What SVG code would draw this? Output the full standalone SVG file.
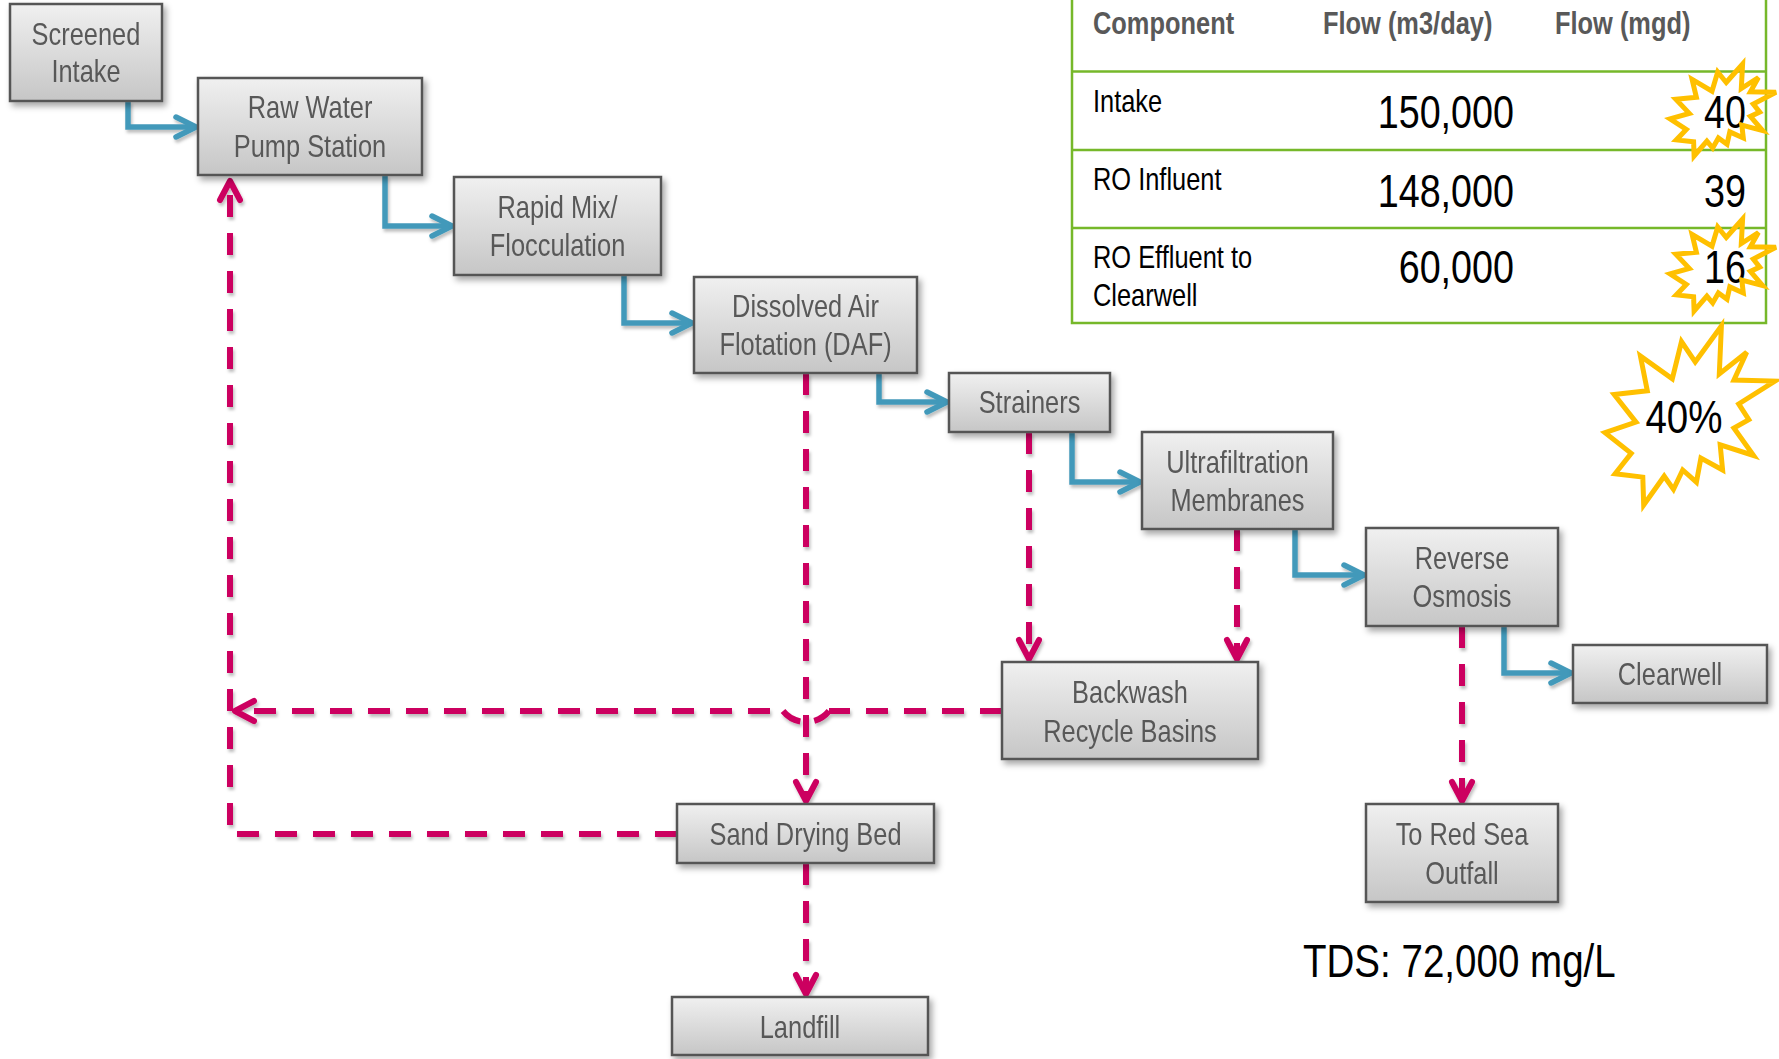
<svg xmlns="http://www.w3.org/2000/svg" width="1779" height="1059" viewBox="0 0 1779 1059">
  <style>
    .box { fill: url(#boxFill); stroke: #555555; stroke-width: 2.5; }
    .lbl { font-family: 'Liberation Sans', Arial, sans-serif; font-size: 31px; fill: #595959; text-anchor: middle; }
    .flow { fill: none; stroke: #4399BA; stroke-width: 5.5; stroke-linecap: butt; stroke-linejoin: miter; }
    .waste { fill: none; stroke: #CC0060; stroke-width: 6; stroke-dasharray: 22 16; }
    .tbl { fill: none; stroke: #76B82A; stroke-width: 2.5; }
    .th { font-family: 'Liberation Sans', Arial, sans-serif; font-size: 31px; font-weight: bold; fill: #595959; }
    .td { font-family: 'Liberation Sans', Arial, sans-serif; font-size: 31px; fill: #000000; }
    .num { font-family: 'Liberation Sans', Arial, sans-serif; font-size: 46px; fill: #000000; text-anchor: end; }
    .burst { fill: none; stroke: #FFC000; stroke-width: 5; stroke-linejoin: miter; }
    .big { font-family: 'Liberation Sans', Arial, sans-serif; font-size: 47px; fill: #000000; }
  </style>
  <defs>
    <linearGradient id="boxFill" x1="0" y1="0" x2="0" y2="1">
      <stop offset="0" stop-color="#F0F0F0"/>
      <stop offset="1" stop-color="#C6C6C6"/>
    </linearGradient>
    <filter id="boxShadow" x="-10%" y="-10%" width="125%" height="135%">
      <feDropShadow dx="3" dy="4" stdDeviation="3" flood-color="#000000" flood-opacity="0.35"/>
    </filter>
    <filter id="lineShadow" x="-5%" y="-5%" width="110%" height="110%">
      <feDropShadow dx="1.5" dy="3" stdDeviation="1.5" flood-color="#000000" flood-opacity="0.25"/>
    </filter>
    <marker id="headBlue" markerUnits="userSpaceOnUse" viewBox="-26 -16 32 32" markerWidth="32" markerHeight="32" refX="0" refY="0" orient="auto" overflow="visible">
      <path d="M-20,-10 L0,0 L-20,10" fill="none" stroke="#4399BA" stroke-width="5.5" stroke-linecap="round" stroke-linejoin="round"/>
    </marker>
    <marker id="headRed" markerUnits="userSpaceOnUse" viewBox="-26 -16 32 32" markerWidth="32" markerHeight="32" refX="0" refY="0" orient="auto" overflow="visible">
      <path d="M-19,-10 L0,0 L-19,10" fill="none" stroke="#CC0060" stroke-width="6" stroke-linecap="round" stroke-linejoin="round"/>
    </marker>
    <path id="burstSmall" d="M56.2,18.5 L72.6,0 L71.3,24.6 L88.4,13.5 L80.4,27.8 L106,28.3 L83.3,40 L89.7,48.1 L80.4,52.4 L92.6,66.6 L71.8,61.1 L73.3,74 L59.8,67.9 L57,80.3 L48.4,74 L42.7,84 L36.9,77.2 L24.1,92 L23.6,77.7 L6.3,75.9 L16.3,65.5 L0,54.9 L19.3,49.4 L5.8,35.2 L26.4,33.3 L22.1,15.4 L42,27.2 L47.7,8 Z"/>
  </defs>

  <!-- flow table (text condensed horizontally to a narrow face) -->
  <g id="flow-table">
    <rect class="tbl" x="1072" y="-5" width="694" height="328"/>
    <line class="tbl" x1="1072" y1="71.5" x2="1766" y2="71.5"/>
    <line class="tbl" x1="1072" y1="150" x2="1766" y2="150"/>
    <line class="tbl" x1="1072" y1="228" x2="1766" y2="228"/>
    <text class="th" transform="translate(1093,34) scale(0.82,1)">Component</text>
    <text class="th" transform="translate(1323,34) scale(0.82,1)">Flow (m3/day)</text>
    <text class="th" transform="translate(1555,34) scale(0.82,1)">Flow (mgd)</text>
    <text class="td" transform="translate(1093,112) scale(0.82,1)">Intake</text>
    <text class="td" transform="translate(1093,190) scale(0.82,1)">RO Influent</text>
    <text class="td" transform="translate(1093,268) scale(0.82,1)">RO Effluent to</text>
    <text class="td" transform="translate(1093,306) scale(0.82,1)">Clearwell</text>
    <text class="num" transform="translate(1514,128) scale(0.82,1)">150,000</text>
    <text class="num" transform="translate(1514,207) scale(0.82,1)">148,000</text>
    <text class="num" transform="translate(1514,283) scale(0.82,1)">60,000</text>
    <text class="num" transform="translate(1746,128) scale(0.82,1)">40</text>
    <text class="num" transform="translate(1746,207) scale(0.82,1)">39</text>
    <text class="num" transform="translate(1746,283) scale(0.82,1)">16</text>
  </g>

  <!-- highlight bursts -->
  <g id="bursts">
    <use href="#burstSmall" class="burst" transform="translate(1670,64)"/>
    <use href="#burstSmall" class="burst" transform="translate(1670,219)"/>
    <path class="burst" d="M1695.2,362 L1721.4,326 L1719.3,373.9 L1746.7,352.3 L1733.9,380.1 L1775,381.1 L1738.7,403.9 L1748.8,419.6 L1733.9,428 L1753.6,455.5 L1720.2,444.9 L1722.6,470 L1700.9,458.1 L1696.4,482.1 L1682.7,470 L1673.5,489.4 L1664.2,476.2 L1643.7,505 L1642.8,477.1 L1615.1,473.7 L1631.2,453.4 L1605,432.7 L1636,422.1 L1614.2,394.5 L1647.3,390.8 L1640.4,356 L1672.3,378.9 L1681.5,341.6 Z"/>
    <text class="big" text-anchor="middle" transform="translate(1684,433) scale(0.82,1)">40%</text>
  </g>

  <!-- connectors -->
  <g id="connectors">
    <g filter="url(#lineShadow)">
      <path class="flow" d="M128,101 V127 H196" marker-end="url(#headBlue)"/>
      <path class="flow" d="M385,175 V226 H452" marker-end="url(#headBlue)"/>
      <path class="flow" d="M624,275 V323 H692" marker-end="url(#headBlue)"/>
      <path class="flow" d="M879,373 V402 H947" marker-end="url(#headBlue)"/>
      <path class="flow" d="M1072,432 V482 H1140" marker-end="url(#headBlue)"/>
      <path class="flow" d="M1295,529 V575 H1364" marker-end="url(#headBlue)"/>
      <path class="flow" d="M1504,626 V673 H1571" marker-end="url(#headBlue)"/>
    </g>
    <g filter="url(#lineShadow)">
      <path class="waste" d="M677,834 H230 V181" marker-end="url(#headRed)"/>
      <path class="waste" d="M1002,711 H829"/>
      <!-- line hop where the recycle return crosses the DAF sludge line -->
      <path class="waste" style="stroke-dasharray: 18 14 30" d="M829,711 A29.5,29.5 0 0 1 783,711"/>
      <path class="waste" d="M770,711 H235" marker-end="url(#headRed)"/>
      <path class="waste" d="M806,373 V801" marker-end="url(#headRed)"/>
      <path class="waste" d="M806,863 V994" marker-end="url(#headRed)"/>
      <path class="waste" d="M1029,432 V659" marker-end="url(#headRed)"/>
      <path class="waste" d="M1237,529 V659" marker-end="url(#headRed)"/>
      <path class="waste" d="M1462,626 V801" marker-end="url(#headRed)"/>
    </g>
  </g>

  <!-- process units -->
  <g id="screened-intake" filter="url(#boxShadow)">
    <rect class="box" x="10" y="4" width="152" height="97"/>
    <text class="lbl" transform="translate(86,45) scale(0.82,1)">Screened</text>
    <text class="lbl" transform="translate(86,82) scale(0.82,1)">Intake</text>
  </g>
  <g id="raw-water-pump-station" filter="url(#boxShadow)">
    <rect class="box" x="198" y="78" width="224" height="97"/>
    <text class="lbl" transform="translate(310,118) scale(0.82,1)">Raw Water</text>
    <text class="lbl" transform="translate(310,157) scale(0.82,1)">Pump Station</text>
  </g>
  <g id="rapid-mix" filter="url(#boxShadow)">
    <rect class="box" x="454" y="177" width="207" height="98"/>
    <text class="lbl" transform="translate(557.5,218) scale(0.82,1)">Rapid Mix/</text>
    <text class="lbl" transform="translate(557.5,256) scale(0.82,1)">Flocculation</text>
  </g>
  <g id="daf" filter="url(#boxShadow)">
    <rect class="box" x="694" y="277" width="223" height="96"/>
    <text class="lbl" transform="translate(805.5,317) scale(0.82,1)">Dissolved Air</text>
    <text class="lbl" transform="translate(805.5,355) scale(0.82,1)">Flotation (DAF)</text>
  </g>
  <g id="strainers" filter="url(#boxShadow)">
    <rect class="box" x="949" y="373" width="161" height="59"/>
    <text class="lbl" transform="translate(1029.5,413) scale(0.82,1)">Strainers</text>
  </g>
  <g id="ultrafiltration" filter="url(#boxShadow)">
    <rect class="box" x="1142" y="432" width="191" height="97"/>
    <text class="lbl" transform="translate(1237.5,473) scale(0.82,1)">Ultrafiltration</text>
    <text class="lbl" transform="translate(1237.5,511) scale(0.82,1)">Membranes</text>
  </g>
  <g id="reverse-osmosis" filter="url(#boxShadow)">
    <rect class="box" x="1366" y="528" width="192" height="98"/>
    <text class="lbl" transform="translate(1462,569) scale(0.82,1)">Reverse</text>
    <text class="lbl" transform="translate(1462,607) scale(0.82,1)">Osmosis</text>
  </g>
  <g id="clearwell" filter="url(#boxShadow)">
    <rect class="box" x="1573" y="645" width="194" height="58"/>
    <text class="lbl" transform="translate(1670,685) scale(0.82,1)">Clearwell</text>
  </g>
  <g id="backwash-recycle" filter="url(#boxShadow)">
    <rect class="box" x="1002" y="662" width="256" height="97"/>
    <text class="lbl" transform="translate(1130,703) scale(0.82,1)">Backwash</text>
    <text class="lbl" transform="translate(1130,742) scale(0.82,1)">Recycle Basins</text>
  </g>
  <g id="sand-drying-bed" filter="url(#boxShadow)">
    <rect class="box" x="677" y="804" width="257" height="59"/>
    <text class="lbl" transform="translate(805.5,845) scale(0.82,1)">Sand Drying Bed</text>
  </g>
  <g id="landfill" filter="url(#boxShadow)">
    <rect class="box" x="672" y="997" width="256" height="58"/>
    <text class="lbl" transform="translate(800,1038) scale(0.82,1)">Landfill</text>
  </g>
  <g id="red-sea-outfall" filter="url(#boxShadow)">
    <rect class="box" x="1366" y="804" width="192" height="98"/>
    <text class="lbl" transform="translate(1462,845) scale(0.82,1)">To Red Sea</text>
    <text class="lbl" transform="translate(1462,884) scale(0.82,1)">Outfall</text>
  </g>

  <text class="big" transform="translate(1303,977) scale(0.82,1)">TDS: 72,000 mg/L</text>
</svg>
